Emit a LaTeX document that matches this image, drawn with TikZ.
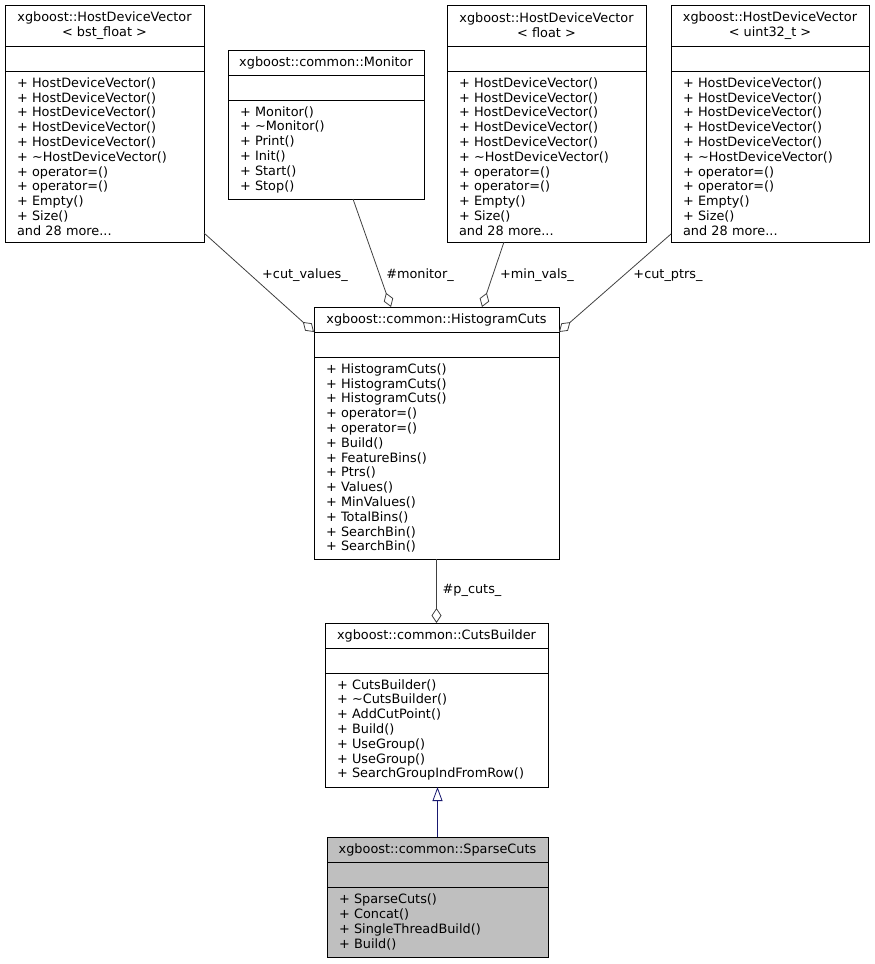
\documentclass[tikz,border=0pt]{standalone}
\usepackage{fontspec}
\setmainfont{DejaVu Sans}
\usepackage{tikz}
\usetikzlibrary{calc,arrows.meta,positioning}
\usepackage{xcolor}
\definecolor{edgegray}{HTML}{404040}
\definecolor{inhblue}{HTML}{191970}
\definecolor{curfill}{HTML}{BFBFBF}

\begin{document}
\begin{tikzpicture}[x=1pt, y=-1pt,
    every node/.style={font=\fontsize{12.85pt}{14.8pt}\selectfont},
    cbox/.style={draw=black, line width=0.8pt, outer sep=0pt, inner sep=0pt, anchor=north west},
    ctitle/.style={cbox, align=center, minimum height=25pt},
    cattr/.style={cbox, minimum height=25pt},
    cmeth/.style={cbox, align=left, inner xsep=12pt},
    aggr/.style={draw=edgegray, line width=0.8pt, -{Diamond[open, length=15pt, width=10pt]}},
    inherit/.style={draw=inhblue, line width=0.8pt, -{Triangle[open, length=14pt, width=10pt]}},
    lbl/.style={inner sep=1pt}]

\useasboundingbox (0,0) rectangle (875,964);

% HostDeviceVector< bst_float >
\node[ctitle, minimum width=199pt, minimum height=41pt] (bstT) at (5,5) {xgboost::HostDeviceVector\\< bst\_float >};
\node[cattr, minimum width=199pt, below=0pt of bstT] (bstA) {};
\node[cmeth, text width=175pt, minimum height=171pt, below=0pt of bstA] (bstM) {+ HostDeviceVector()\\+ HostDeviceVector()\\+ HostDeviceVector()\\+ HostDeviceVector()\\+ HostDeviceVector()\\+ \textasciitilde HostDeviceVector()\\+ operator=()\\+ operator=()\\+ Empty()\\+ Size()\\and 28 more...};

% Monitor
\node[ctitle, minimum width=196pt] (monT) at (228,50) {xgboost::common::Monitor};
\node[cattr, minimum width=196pt, below=0pt of monT] (monA) {};
\node[cmeth, text width=172pt, minimum height=99pt, below=0pt of monA] (monM) {+ Monitor()\\+ \textasciitilde Monitor()\\+ Print()\\+ Init()\\+ Start()\\+ Stop()};

% HostDeviceVector< float >
\node[ctitle, minimum width=199pt, minimum height=41pt] (fltT) at (447,5) {xgboost::HostDeviceVector\\< float >};
\node[cattr, minimum width=199pt, below=0pt of fltT] (fltA) {};
\node[cmeth, text width=175pt, minimum height=171pt, below=0pt of fltA] (fltM) {+ HostDeviceVector()\\+ HostDeviceVector()\\+ HostDeviceVector()\\+ HostDeviceVector()\\+ HostDeviceVector()\\+ \textasciitilde HostDeviceVector()\\+ operator=()\\+ operator=()\\+ Empty()\\+ Size()\\and 28 more...};

% HostDeviceVector< uint32_t >
\node[ctitle, minimum width=198pt, minimum height=41pt] (u32T) at (671,5) {xgboost::HostDeviceVector\\< uint32\_t >};
\node[cattr, minimum width=198pt, below=0pt of u32T] (u32A) {};
\node[cmeth, text width=174pt, minimum height=171pt, below=0pt of u32A] (u32M) {+ HostDeviceVector()\\+ HostDeviceVector()\\+ HostDeviceVector()\\+ HostDeviceVector()\\+ HostDeviceVector()\\+ \textasciitilde HostDeviceVector()\\+ operator=()\\+ operator=()\\+ Empty()\\+ Size()\\and 28 more...};

% HistogramCuts
\node[ctitle, minimum width=245pt] (histT) at (314,307) {xgboost::common::HistogramCuts};
\node[cattr, minimum width=245pt, below=0pt of histT] (histA) {};
\node[cmeth, text width=221pt, minimum height=202pt, below=0pt of histA] (histM) {+ HistogramCuts()\\+ HistogramCuts()\\+ HistogramCuts()\\+ operator=()\\+ operator=()\\+ Build()\\+ FeatureBins()\\+ Ptrs()\\+ Values()\\+ MinValues()\\+ TotalBins()\\+ SearchBin()\\+ SearchBin()};

% CutsBuilder
\node[ctitle, minimum width=223pt] (cbT) at (325,623) {xgboost::common::CutsBuilder};
\node[cattr, minimum width=223pt, below=0pt of cbT] (cbA) {};
\node[cmeth, text width=199pt, minimum height=114pt, below=0pt of cbA] (cbM) {+ CutsBuilder()\\+ \textasciitilde CutsBuilder()\\+ AddCutPoint()\\+ Build()\\+ UseGroup()\\+ UseGroup()\\+ SearchGroupIndFromRow()};

% SparseCuts
\node[ctitle, fill=curfill, minimum width=221pt] (spT) at (327,837) {xgboost::common::SparseCuts};
\node[cattr, fill=curfill, minimum width=221pt, below=0pt of spT] (spA) {};
\node[cmeth, fill=curfill, text width=197pt, minimum height=70pt, below=0pt of spA] (spM) {+ SparseCuts()\\+ Concat()\\+ SingleThreadBuild()\\+ Build()};

% members
\draw[aggr] ($(bstM.south east)+(0,-9)$) -- (histT.south west);
\draw[aggr] ($(monM.south)+(27,0)$) -- ($(histT.north)+(-45.5,0)$);
\draw[aggr] ($(fltM.south)+(-42.5,0)$) -- ($(histT.north)+(45.5,0)$);
\draw[aggr] ($(u32M.south west)+(0,-8)$) -- (histT.south east);
\draw[aggr] (histM.south) -- (cbT.north);
\draw[inherit] (spT.north) -- (spT.north |- cbM.south);

\node[lbl] (cutValL) at (305,275) {+cut\_values\_};
\node[lbl] (monL) at (420,275) {\#monitor\_};
\node[lbl] (minValL) at (537,275) {+min\_vals\_};
\node[lbl] (cutPtrL) at (668,275) {+cut\_ptrs\_};
\node[lbl] (pCutsL) at (472,590) {\#p\_cuts\_};

\end{tikzpicture}
\end{document}
